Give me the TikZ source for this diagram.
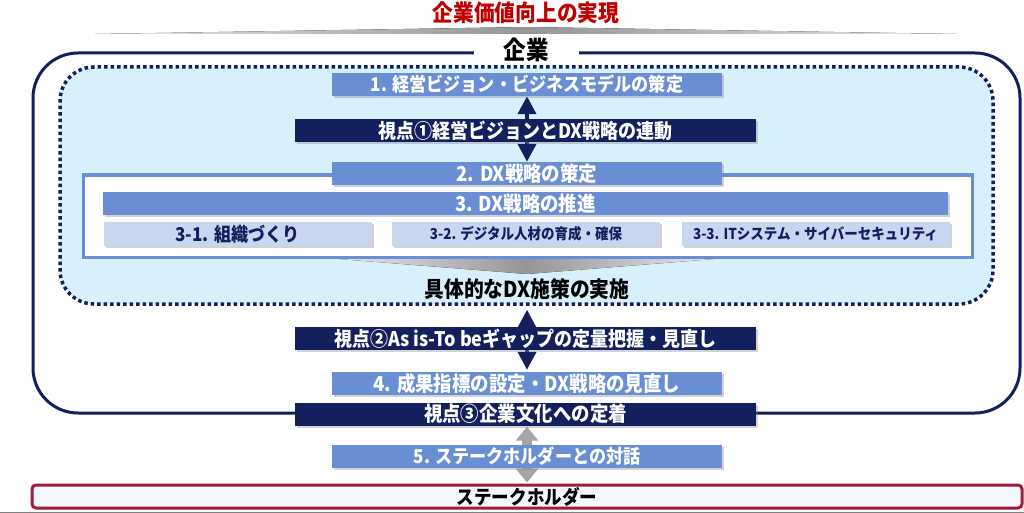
\documentclass[tikz,border=0pt]{standalone}
\usepackage{fontspec}
\setmainfont{Noto Sans CJK JP}[FakeStretch=0.9]
\usetikzlibrary{arrows.meta,shadows}
\definecolor{kpiblue}{RGB}{105,142,212}
\definecolor{kpinavy}{RGB}{20,31,94}
\definecolor{kpisky}{RGB}{216,240,252}
\definecolor{kpipale}{RGB}{200,214,239}
\definecolor{kpired}{RGB}{192,0,0}
\definecolor{kpiwine}{RGB}{158,27,60}
\definecolor{kpigray}{RGB}{166,166,166}
\definecolor{kpisnow}{RGB}{242,248,251}
\pgfdeclarelayer{back}
\pgfdeclarelayer{mid}
\pgfsetlayers{back,mid,main}

\begin{document}
\begin{tikzpicture} [
			x=1pt, y=-1pt,
			shade/.style={drop shadow={shadow xshift=2pt, shadow yshift=-2pt, opacity=.35}},
			bluebox/.style={rectangle, fill=kpiblue, text=white, inner sep=0pt, shade,
				minimum width=390pt, minimum height=23pt, font={\fontsize{19}{19}\selectfont\bfseries}},
			bigtext/.style={font={\fontsize{20.5}{20.5}\selectfont\bfseries}},
			navybox/.style={bluebox, fill=kpinavy, minimum width=461pt, font={\fontsize{20}{20}\selectfont\bfseries}},
			subbox/.style={bluebox, fill=kpipale, text=kpinavy, minimum width=268pt, minimum height=24pt,
				font={\fontsize{15}{15}\selectfont\bfseries}},
			corpframe/.style={rectangle, draw=kpinavy, line width=3pt, rounded corners=45pt,
				minimum width=987pt, minimum height=360pt},
			dotarea/.style={rectangle, draw=kpinavy, fill=kpisky, line width=3.5pt, dash pattern=on 3.5pt off 3pt,
				rounded corners=34pt, minimum width=933pt, minimum height=237pt},
			whiteframe/.style={rectangle, draw=kpiblue, fill=white, line width=3pt, shade,
				minimum width=889pt, minimum height=82pt},
			stakebox/.style={rectangle, draw=kpiwine, fill=kpisnow, line width=3pt, rounded corners=4pt,
				minimum width=990pt, minimum height=23pt, inner sep=0pt, font={\fontsize{19.5}{19.5}\selectfont\bfseries}},
			navyarrow/.style={draw=kpinavy, line width=4pt, {Triangle[length=18pt,width=18pt]}-{Triangle[length=18pt,width=18pt]}},
			grayarrow/.style={draw=kpigray, line width=10pt, {Triangle[length=14pt,width=22pt]}-{Triangle[length=14pt,width=22pt]}},
			wedge/.style={left color=kpigray!25, right color=kpigray!25, middle color=kpigray!90!black}
		]
		\useasboundingbox (0,0) rectangle (1024,513);

		\begin{pgfonlayer}{back}
			\node at (526.5,233)   [corpframe]  (corp) {};
			\node at (526.5,185.5) [dotarea]    (area) {};
			\node at (527.5,216)   [whiteframe] (frame) {};
			\fill [wedge] (95,34) -- (527,27) -- (957,34) -- cycle;
			\fill [wedge] (339,259) -- (714,259) -- (527,274) -- cycle;
		\end{pgfonlayer}

		\node at (526,13) [text=kpired, font={\fontsize{23}{23}\selectfont\bfseries}] (goal) {企業価値向上の実現};
		\node at (526,50) [fill=white, inner xsep=30pt, inner ysep=1pt, font={\fontsize{25}{25}\selectfont\bfseries}] (corplabel) {企業};

		\node at (527,84.5)   [bluebox] (vision) {1. 経営ビジョン・ビジネスモデルの策定};
		\node at (525.5,130.5) [navybox] (view1) {視点①経営ビジョンとDX戦略の連動};
		\node at (527,173.5)  [bluebox, bigtext] (plan) {2. DX戦略の策定};
		\node at (525.5,203.5) [bluebox, bigtext, minimum width=845pt] (promote) {3. DX戦略の推進};
		\node at (237.5,234)  [subbox, font={\fontsize{19}{19}\selectfont\bfseries}] (org) {3-1. 組織づくり};
		\node at (526,234)    [subbox] (talent) {3-2. デジタル人材の育成・確保};
		\node at (815.5,234)  [subbox] (itsys) {3-3. ITシステム・サイバーセキュリティ};
		\node at (527,289)    [font={\fontsize{22}{22}\selectfont\bfseries}] (action) {具体的なDX施策の実施};
		\node at (525.5,338.5) [navybox] (view2) {視点②As is-To beギャップの定量把握・見直し};
		\node at (527,383.5)  [bluebox, bigtext] (review) {4. 成果指標の設定・DX戦略の見直し};
		\node at (525.5,414)  [navybox, bigtext] (view3) {視点③企業文化への定着};
		\node at (527,456)    [bluebox] (dialog) {5. ステークホルダーとの対話};
		\node at (527,496.5)  [stakebox] (stake) {ステークホルダー};

		\begin{pgfonlayer}{mid}
			\draw [navyarrow] (vision) -- (plan);
			\draw [navyarrow, shorten <=4pt, shorten >=2pt] (review |- area.south) -- (review);
			\draw [grayarrow, shorten <=1pt, shorten >=1pt] (dialog |- view3.south) -- (dialog |- stake.north);
		\end{pgfonlayer}

		\draw [gray, line width=1pt] (0,512) -- (1024,512);
	\end{tikzpicture}
\end{document}
